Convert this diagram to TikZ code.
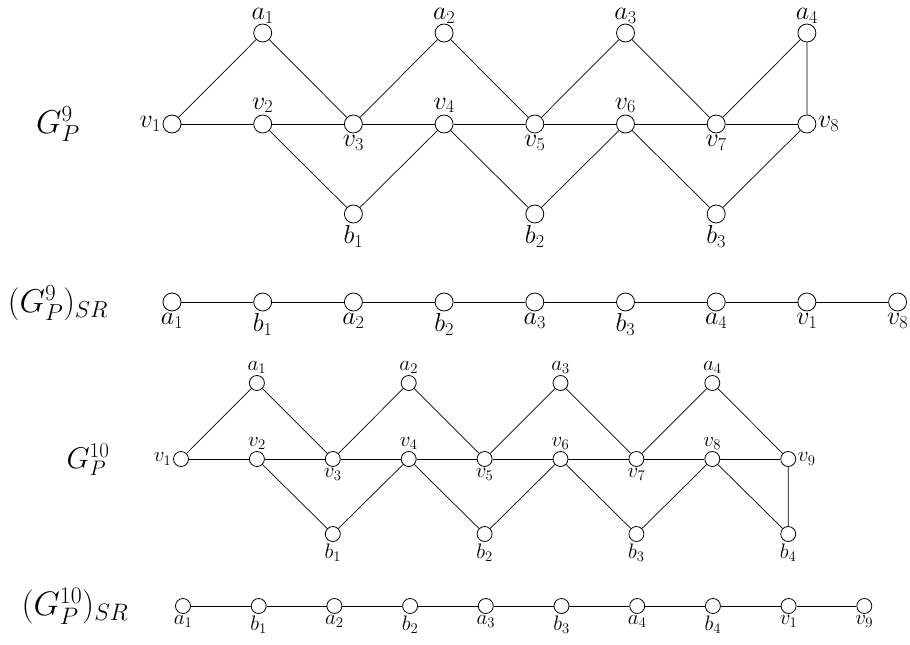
\documentclass[tikz,border=0pt]{standalone}
\usepackage{fix-cm}
\begin{document}
\begin{tikzpicture}[x=1pt,y=-1pt,
  bigv/.style={circle,draw,line width=0.8pt,minimum size=18pt,inner sep=0pt},
  smallv/.style={circle,draw,line width=0.8pt,minimum size=15pt,inner sep=0pt},
  edge/.style={line width=0.7pt},
  biglab/.style={inner sep=1.5pt,font=\fontsize{26}{30}\selectfont},
  toplab/.style={inner sep=0.3pt,font=\fontsize{26}{30}\selectfont},
  smalllab/.style={inner sep=1.5pt,font=\fontsize{21}{25}\selectfont},
  gtitle/.style={inner sep=0pt,font=\fontsize{33}{38}\selectfont},
  gtitlesmall/.style={inner sep=0pt,font=\fontsize{30}{34}\selectfont},
  gtitlesr/.style={inner sep=0pt,font=\fontsize{34}{38}\selectfont},
  label distance=0pt]
\useasboundingbox (0,0) rectangle (910,645);

% ---------- G_P^9 ----------
\node[gtitle] (t1) at (58,124) {$G_P^9$};
\node[bigv,label={[biglab]left:$v_1$}] (v1) at (172,124) {};
\node[bigv,label={[biglab]above:$v_2$}] (v2) at (262.7,124) {};
\node[bigv,label={[biglab]below:$v_3$}] (v3) at (353.4,124) {};
\node[bigv,label={[biglab]above:$v_4$}] (v4) at (444.1,124) {};
\node[bigv,label={[biglab]below:$v_5$}] (v5) at (534.8,124) {};
\node[bigv,label={[biglab]above:$v_6$}] (v6) at (625.5,124) {};
\node[bigv,label={[biglab]below:$v_7$}] (v7) at (716.2,124) {};
\node[bigv,label={[biglab]right:$v_8$}] (v8) at (806.9,124) {};
\node[bigv,label={[toplab]above:$a_1$}] (a1) at (262.7,33) {};
\node[bigv,label={[toplab]above:$a_2$}] (a2) at (444.1,33) {};
\node[bigv,label={[toplab]above:$a_3$}] (a3) at (625.5,33) {};
\node[bigv,label={[toplab]above:$a_4$}] (a4) at (806.9,33) {};
\node[bigv,label={[biglab]below:$b_1$}] (b1) at (353.4,214) {};
\node[bigv,label={[biglab]below:$b_2$}] (b2) at (534.8,214) {};
\node[bigv,label={[biglab]below:$b_3$}] (b3) at (716.2,214) {};
\draw[edge] (v1)--(v2)--(v3)--(v4)--(v5)--(v6)--(v7)--(v8);
\draw[edge] (v1)--(a1)--(v3)--(a2)--(v5)--(a3)--(v7)--(a4)--(v8);
\draw[edge] (v2)--(b1)--(v4)--(b2)--(v6)--(b3)--(v8);

% ---------- (G_P^9)_SR ----------
\node[gtitle] (t2) at (58,303) {$(G_P^9)_{SR}$};
\node[bigv,label={[biglab]below:$a_1$}] (p1) at (172,302) {};
\node[bigv,label={[biglab]below:$b_1$}] (p2) at (262.7,302) {};
\node[bigv,label={[biglab]below:$a_2$}] (p3) at (353.4,302) {};
\node[bigv,label={[biglab]below:$b_2$}] (p4) at (444.1,302) {};
\node[bigv,label={[biglab]below:$a_3$}] (p5) at (534.8,302) {};
\node[bigv,label={[biglab]below:$b_3$}] (p6) at (625.5,302) {};
\node[bigv,label={[biglab]below:$a_4$}] (p7) at (716.2,302) {};
\node[bigv,label={[biglab]below:$v_1$}] (p8) at (806.9,302) {};
\node[bigv,label={[biglab]below:$v_8$}] (p9) at (897.6,302) {};
\draw[edge] (p1)--(p2)--(p3)--(p4)--(p5)--(p6)--(p7)--(p8)--(p9);

% ---------- G_P^10 ----------
\node[gtitlesmall] (t3) at (88,460) {$G_P^{10}$};
\node[smallv,label={[smalllab]left:$v_1$}] (w1) at (181,459) {};
\node[smallv,label={[smalllab]above:$v_2$}] (w2) at (256.9,459) {};
\node[smallv,label={[smalllab]below:$v_3$}] (w3) at (332.8,459) {};
\node[smallv,label={[smalllab]above:$v_4$}] (w4) at (408.7,459) {};
\node[smallv,label={[smalllab]below:$v_5$}] (w5) at (484.6,459) {};
\node[smallv,label={[smalllab]above:$v_6$}] (w6) at (560.5,459) {};
\node[smallv,label={[smalllab]below:$v_7$}] (w7) at (636.4,459) {};
\node[smallv,label={[smalllab]above:$v_8$}] (w8) at (712.3,459) {};
\node[smallv,label={[smalllab]right:$v_9$}] (w9) at (788.2,459) {};
\node[smallv,label={[smalllab]above:$a_1$}] (c1) at (256.9,383) {};
\node[smallv,label={[smalllab]above:$a_2$}] (c2) at (408.7,383) {};
\node[smallv,label={[smalllab]above:$a_3$}] (c3) at (560.5,383) {};
\node[smallv,label={[smalllab]above:$a_4$}] (c4) at (712.3,383) {};
\node[smallv,label={[smalllab]below:$b_1$}] (d1) at (332.8,534) {};
\node[smallv,label={[smalllab]below:$b_2$}] (d2) at (484.6,534) {};
\node[smallv,label={[smalllab]below:$b_3$}] (d3) at (636.4,534) {};
\node[smallv,label={[smalllab]below:$b_4$}] (d4) at (788.2,534) {};
\draw[edge] (w1)--(w2)--(w3)--(w4)--(w5)--(w6)--(w7)--(w8)--(w9);
\draw[edge] (w1)--(c1)--(w3)--(c2)--(w5)--(c3)--(w7)--(c4)--(w9);
\draw[edge] (w2)--(d1)--(w4)--(d2)--(w6)--(d3)--(w8)--(d4)--(w9);

% ---------- (G_P^10)_SR ----------
\node[gtitlesr] (t4) at (75,606) {$(G_P^{10})_{SR}$};
\node[smallv,label={[smalllab]below:$a_1$}] (q1) at (183,606) {};
\node[smallv,label={[smalllab]below:$b_1$}] (q2) at (258.7,606) {};
\node[smallv,label={[smalllab]below:$a_2$}] (q3) at (334.4,606) {};
\node[smallv,label={[smalllab]below:$b_2$}] (q4) at (410.1,606) {};
\node[smallv,label={[smalllab]below:$a_3$}] (q5) at (485.8,606) {};
\node[smallv,label={[smalllab]below:$b_3$}] (q6) at (561.5,606) {};
\node[smallv,label={[smalllab]below:$a_4$}] (q7) at (637.2,606) {};
\node[smallv,label={[smalllab]below:$b_4$}] (q8) at (712.9,606) {};
\node[smallv,label={[smalllab]below:$v_1$}] (q9) at (788.6,606) {};
\node[smallv,label={[smalllab]below:$v_9$}] (q10) at (864.3,606) {};
\draw[edge] (q1)--(q2)--(q3)--(q4)--(q5)--(q6)--(q7)--(q8)--(q9)--(q10);
\end{tikzpicture}
\end{document}
